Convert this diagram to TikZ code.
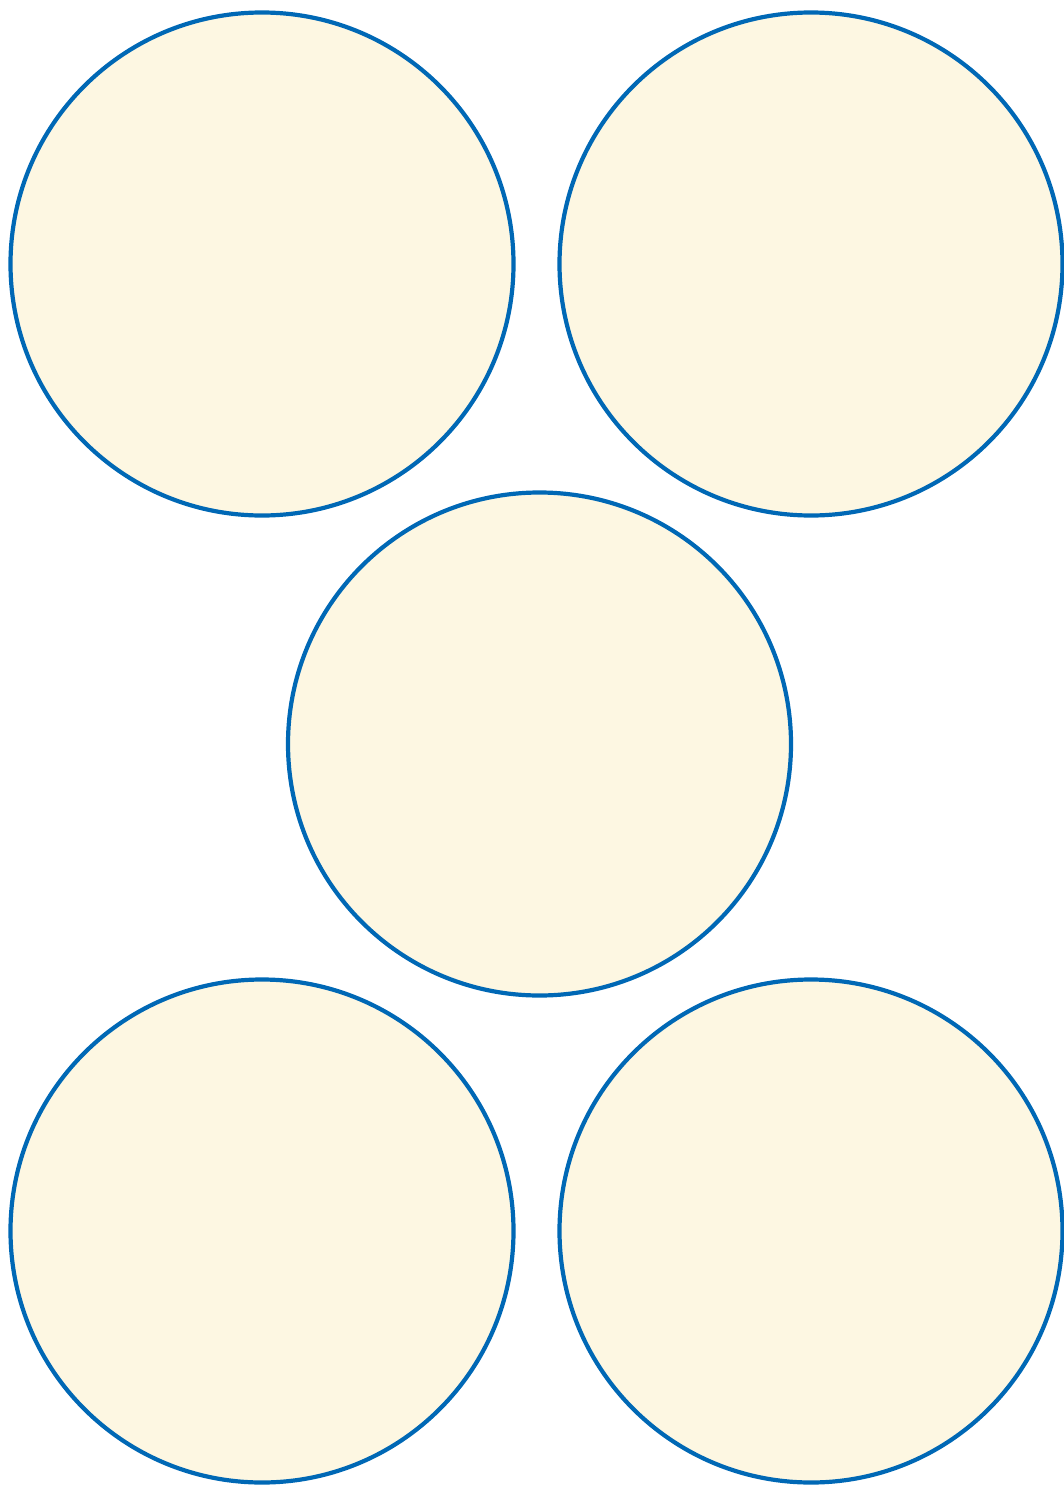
\documentclass[tikz,border=0pt]{standalone}
\definecolor{ringblue}{RGB}{0,104,181}
\definecolor{discfill}{RGB}{253,247,226}
\begin{document}
\begin{tikzpicture}[x=1pt,y=-1pt,
  disc/.style={circle,draw=ringblue,fill=discfill,line width=4.2pt,minimum size=503pt,inner sep=0pt}]
\useasboundingbox (0,0) rectangle (1064,1485);
\node[disc] (tl) at (262,264) {};
\node[disc] (tr) at (811,264) {};
\node[disc] (mid) at (539.5,744) {};
\node[disc] (bl) at (262,1231) {};
\node[disc] (br) at (811,1231) {};
\end{tikzpicture}
\end{document}
